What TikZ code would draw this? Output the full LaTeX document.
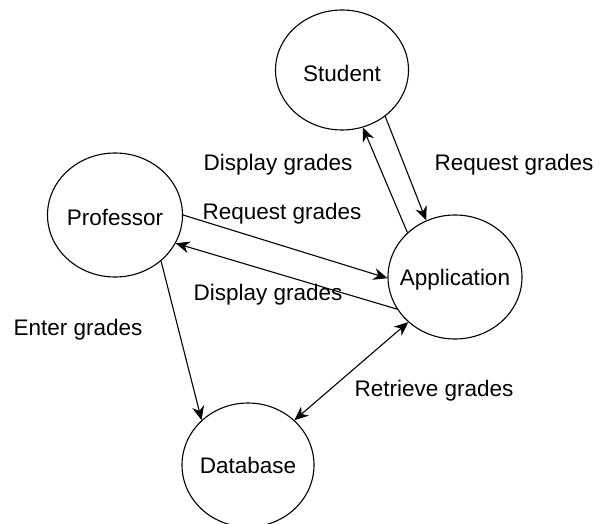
\documentclass[tikz,border=0pt]{standalone}
\usepackage{fontspec}
\setmainfont{Liberation Sans}
\usetikzlibrary{shapes.geometric,arrows.meta}
\begin{document}
\begin{tikzpicture}[x=1pt,y=-1pt,
  every node/.style={font=\fontsize{22.5pt}{26pt}\selectfont},
  entity/.style={ellipse,draw,line width=1.1pt,inner sep=0pt},
  flow/.style={line width=1.1pt,-{Stealth[length=14pt,width=12pt]}},
  flowboth/.style={line width=1.1pt,{Stealth[length=14pt,width=12pt]}-{Stealth[length=14pt,width=12pt]}},
  lbl/.style={inner sep=0pt}]
\useasboundingbox (0,0) rectangle (602,524);
\node[entity,minimum width=133pt,minimum height=120pt,label={[yshift=-3pt]center:Student}] (S) at (342,70) {};
\node[entity,minimum width=135pt,minimum height=124pt,label={[yshift=-2pt]center:Professor}] (P) at (115,215) {};
\node[entity,minimum width=134pt,minimum height=124pt,label={[yshift=-3pt]center:Application}] (A) at (455,277) {};
\node[entity,minimum width=132pt,minimum height=124pt,label={center:Database}] (D) at (248,465) {};

\draw[flow] (S.-47) -- (A.117);
\draw[flow] (A.137) -- (S.-70);
\draw[flow] (P.0) -- (A.181);
\draw[flow] (A.209) -- (P.-25);
\draw[flow] (P.-45) -- (D.136);
\draw[flowboth] (D.44) -- (A.224);

\node[lbl] (l1) at (278,165) {Display grades};
\node[lbl] (l2) at (514,165) {Request grades};
\node[lbl] (l3) at (282,214) {Request grades};
\node[lbl] (l4) at (268,295) {Display grades};
\node[lbl] (l5) at (78,330) {Enter grades};
\node[lbl] (l6) at (434,391) {Retrieve grades};
\end{tikzpicture}
\end{document}
